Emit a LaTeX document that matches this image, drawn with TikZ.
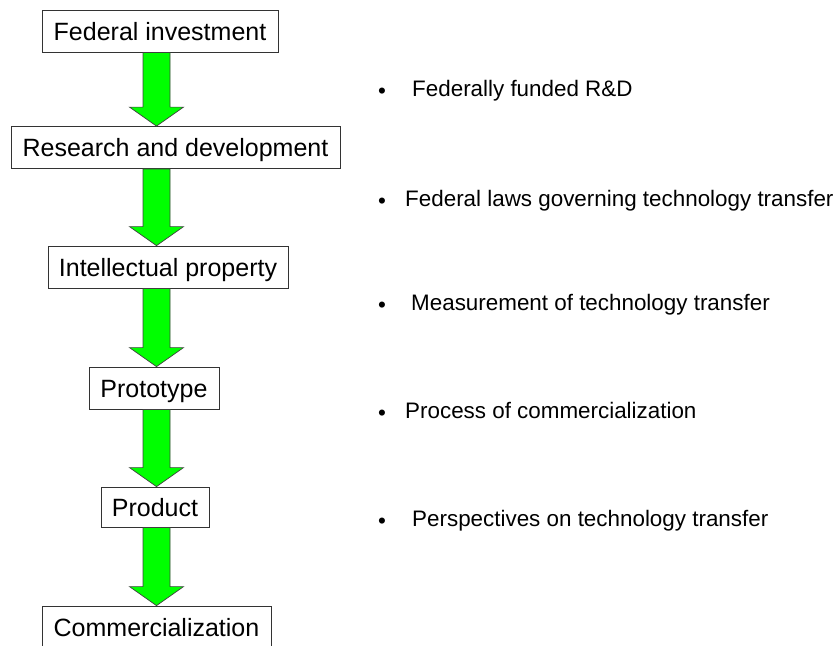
\documentclass[tikz,border=0pt]{standalone}
\usepackage{fontspec}
\setmainfont{Liberation Sans}
\usetikzlibrary{calc}
\definecolor{arrowgreen}{RGB}{0,255,0}
\tikzset{x=1pt,y=-1pt,
  stage/.style={draw=black!80,line width=0.8pt,fill=white,inner sep=0pt,
    minimum height=42pt,text height=18pt,text depth=0pt,
    font=\fontsize{25}{30}\selectfont},
  topic/.style={anchor=west,inner sep=0pt,text height=16pt,text depth=0pt,
    font=\fontsize{22.4}{26}\selectfont},
  dot/.style={topic,anchor=center},
  flow/.style={fill=arrowgreen,draw=black!75,line width=0.7pt,line join=miter}}
% fat green arrow from the bottom of one stage to the top of the next
\newcommand{\flowarrow}[2]{%
  \draw[flow] ($(#1.south -| spine)+(-13.5,0)$)
    -- ($(#2.north -| spine)+(-13.5,-19)$)
    -- ($(#2.north -| spine)+(-27,-19)$)
    -- (#2.north -| spine)
    -- ($(#2.north -| spine)+(27,-19)$)
    -- ($(#2.north -| spine)+(13.5,-19)$)
    -- ($(#1.south -| spine)+(13.5,0)$) -- cycle;}

\begin{document}
\begin{tikzpicture}
  \useasboundingbox (0,0) rectangle (834,645);
  \coordinate (spine) at (156.5,0);

  \node[stage,minimum width=236pt] (fed) at (160,31) {Federal investment};
  \node[stage,minimum width=329pt] (rd) at (175.5,147.5) {Research and development};
  \node[stage,minimum width=240pt] (ip) at (168,267) {Intellectual property};
  \node[stage,minimum width=130pt] (proto) at (154,388) {Prototype};
  \node[stage,minimum width=108pt,minimum height=40pt] (prod) at (155,507) {Product};
  \node[stage,minimum width=229pt] (comm) at (156.5,627) {Commercialization};

  \flowarrow{fed}{rd}
  \flowarrow{rd}{ip}
  \flowarrow{ip}{proto}
  \flowarrow{proto}{prod}
  \flowarrow{prod}{comm}

  % topics on the right
  \node[dot] (d1) at (382,90) {•};
  \node[topic] (t1) at (412,88) {Federally funded R\&D};
  \node[dot] (d2) at (382,200) {•};
  \node[topic] (t2) at (405,198) {Federal laws governing technology transfer};
  \node[dot] (d3) at (382,304) {•};
  \node[topic] (t3) at (411,302) {Measurement of technology transfer};
  \node[dot] (d4) at (382,412) {•};
  \node[topic] (t4) at (405,410) {Process of commercialization};
  \node[dot] (d5) at (382,520) {•};
  \node[topic] (t5) at (412,518) {Perspectives on technology transfer};
\end{tikzpicture}
\end{document}
